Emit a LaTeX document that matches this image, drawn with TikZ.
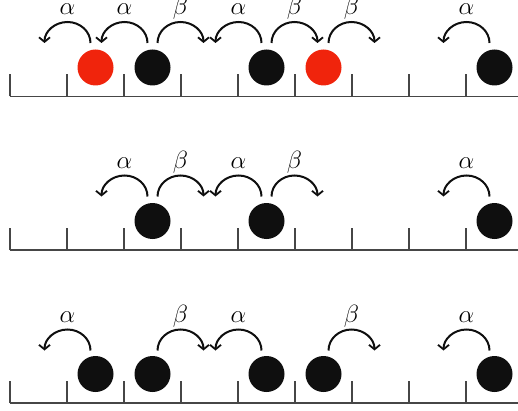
\documentclass[tikz,border=0pt]{standalone}
\usetikzlibrary{arrows.meta}
\definecolor{redsite}{RGB}{240,36,12}
\definecolor{blacksite}{RGB}{15,15,15}
\definecolor{lattice}{RGB}{70,70,70}
\tikzset{
  site/.style={circle,minimum size=36pt,inner sep=0pt,fill=blacksite},
  redsite/.style={site,fill=redsite},
  hop/.style={line width=2pt,draw=blacksite,-{Straight Barb[length=4.5pt,width=11pt,line width=1.8pt]}},
  rate/.style={font=\fontsize{27}{30}\selectfont,anchor=base,inner sep=0pt},
  tickmark/.style={line width=1.2pt,draw=lattice},
  axis/.style={line width=1.4pt,draw=lattice}
}
\newcommand\hopleft[4]{%
  \coordinate (#1) at (#2-5,#3);
  \coordinate (#1e) at (#2-51,#3);
  \draw[hop] (#1) arc[start angle=0,end angle=180,x radius=23,y radius=21];
  \node[rate] (#1l) at (#2-28,#3+28) {$#4$};
}
\newcommand\hopright[4]{%
  \coordinate (#1) at (#2+5,#3);
  \coordinate (#1e) at (#2+51,#3);
  \draw[hop] (#1) arc[start angle=180,end angle=0,x radius=23,y radius=21];
  \node[rate] (#1l) at (#2+28,#3+28) {$#4$};
}
\begin{document}
\begin{tikzpicture}[x=1pt,y=1pt]
\useasboundingbox (0,0) rectangle (518,410);
\foreach \r/\b in {1/313.5,2/160,3/7}{
  \draw[axis] (10,\b) coordinate (a\r) -- (518,\b) coordinate (b\r);
  \foreach \k in {0,...,8}{\draw[tickmark] (10+57*\k,\b) -- ++(0,22);}
}
% row 1
\node[redsite] (r1s1) at (95.5,342.5) {};
\node[site] (r1s2) at (152.5,342.5) {};
\node[site] (r1s4) at (266.5,342.5) {};
\node[redsite] (r1s5) at (323.5,342.5) {};
\node[site] (r1s8) at (494.5,342.5) {};
\hopleft{r1h1}{95.5}{367}{\alpha}
\hopleft{r1h2}{152.5}{367}{\alpha}
\hopright{r1h3}{152.5}{367}{\beta}
\hopleft{r1h4}{266.5}{367}{\alpha}
\hopright{r1h5}{266.5}{367}{\beta}
\hopright{r1h6}{323.5}{367}{\beta}
\hopleft{r1h7}{494.5}{367}{\alpha}
% row 2
\node[site] (r2s2) at (152.5,189) {};
\node[site] (r2s4) at (266.5,189) {};
\node[site] (r2s8) at (494.5,189) {};
\hopleft{r2h1}{152.5}{213.5}{\alpha}
\hopright{r2h2}{152.5}{213.5}{\beta}
\hopleft{r2h3}{266.5}{213.5}{\alpha}
\hopright{r2h4}{266.5}{213.5}{\beta}
\hopleft{r2h5}{494.5}{213.5}{\alpha}
% row 3
\node[site] (r3s1) at (95.5,36) {};
\node[site] (r3s2) at (152.5,36) {};
\node[site] (r3s4) at (266.5,36) {};
\node[site] (r3s5) at (323.5,36) {};
\node[site] (r3s8) at (494.5,36) {};
\hopleft{r3h1}{95.5}{59.5}{\alpha}
\hopright{r3h2}{152.5}{59.5}{\beta}
\hopleft{r3h3}{266.5}{59.5}{\alpha}
\hopright{r3h4}{323.5}{59.5}{\beta}
\hopleft{r3h5}{494.5}{59.5}{\alpha}
\end{tikzpicture}
\end{document}
